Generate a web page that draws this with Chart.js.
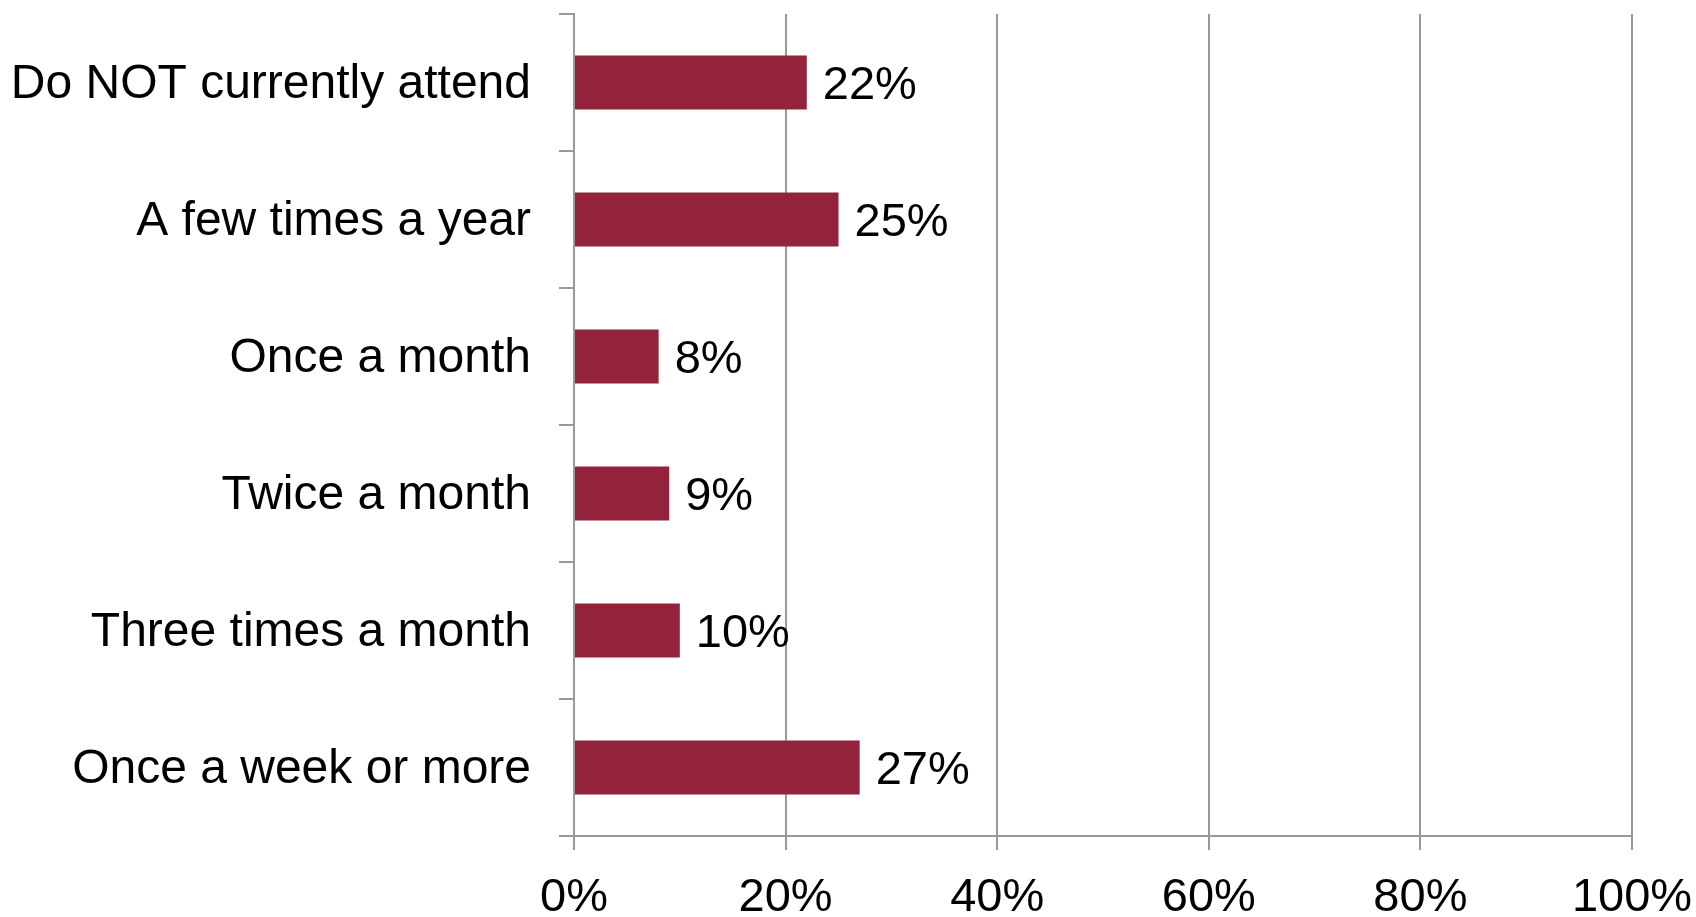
<!DOCTYPE html>
<html>
<head>
<meta charset="utf-8">
<title>Attendance</title>
<script src="https://cdn.jsdelivr.net/npm/chart.js@4/dist/chart.umd.min.js"></script>
<style>
  body { margin: 0; background: #ffffff; }
  #wrap { width: 1696px; height: 917px; }
</style>
</head>
<body>
<div id="wrap"><canvas id="graph1" width="1696" height="917"></canvas></div>
<script>
// Data
var categories = ['Do NOT currently attend', 'A few times a year', 'Once a month', 'Twice a month', 'Three times a month', 'Once a week or more'];
var percentValues = [22, 25, 8, 9, 10, 27];
var xTickValues = [0, 20, 40, 60, 80, 100];

var barColor = '#92233a';
var lineColor = '#999999';
var fontName = '"Liberation Sans", Arial, sans-serif';

// draws "22%" etc just right of each bar
var valueLabels = {
  id: 'valueLabels',
  afterDatasetsDraw: function (chart) {
    var ctx = chart.ctx;
    var meta = chart.getDatasetMeta(0);
    ctx.save();
    ctx.font = '47px ' + fontName;
    ctx.fillStyle = '#000000';
    ctx.textAlign = 'left';
    ctx.textBaseline = 'middle';
    for (var i = 0; i < meta.data.length; i++) {
      var bar = meta.data[i];
      ctx.fillText(percentValues[i] + '%', bar.x + 16, bar.y + 4);
    }
    ctx.restore();
  }
};

var canvas = document.getElementById('graph1');
var ctx = canvas.getContext('2d');

var chart = new Chart(ctx, {
  type: 'bar',
  data: {
    labels: categories,
    datasets: [
      {
        data: percentValues,
        backgroundColor: barColor,
        borderWidth: 0,
        categoryPercentage: 1,
        barPercentage: 0.394
      }
    ]
  },
  plugins: [valueLabels],
  options: {
    indexAxis: 'y',
    responsive: false,
    animation: false,
    layout: { padding: { top: 14, right: 64, left: 0, bottom: 0 } },
    plugins: {
      legend: { display: false },
      tooltip: { enabled: false }
    },
    scales: {
      x: {
        min: 0,
        max: 100,
        afterBuildTicks: function (scale) {
          scale.ticks = xTickValues.map(function (v) { return { value: v }; });
        },
        afterFit: function (scale) {
          scale.height = 81;
          scale.paddingLeft = 0;
          scale.paddingRight = 0;
        },
        grid: {
          color: lineColor,
          lineWidth: 2,
          tickLength: 14,
          drawTicks: true
        },
        border: { color: lineColor, width: 2 },
        ticks: {
          color: '#000000',
          padding: 20,
          maxRotation: 0,
          font: { size: 47, family: fontName },
          callback: function (value) { return value + '%'; }
        }
      },
      y: {
        afterFit: function (scale) {
          scale.width = 574;
          scale.paddingTop = 0;
          scale.paddingBottom = 0;
        },
        grid: {
          offset: true,
          drawOnChartArea: false,
          color: lineColor,
          lineWidth: 2,
          tickLength: 15
        },
        border: { color: lineColor, width: 2 },
        ticks: {
          color: '#000000',
          padding: 28,
          labelOffset: 2,
          font: { size: 48, family: fontName }
        }
      }
    }
  }
});
</script>
</body>
</html>
